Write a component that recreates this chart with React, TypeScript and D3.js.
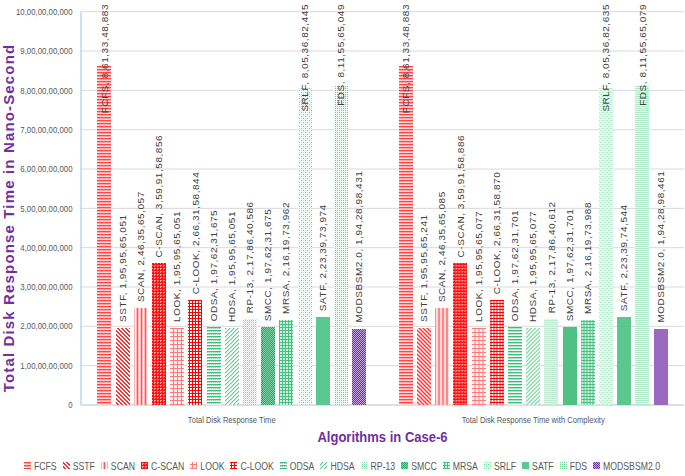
import React, { useMemo } from "react";
import * as d3 from "d3";

const categories = ["Total Disk Response Time", "Total Disk Response Time with Complexity"];
const algorithms = ["FCFS", "SSTF", "SCAN", "C-SCAN", "LOOK", "C-LOOK", "ODSA", "HDSA", "RP-13", "SMCC", "MRSA", "SRLF", "SATF", "FDS", "MODSBSM2.0"];
const totalTime = [8613348883, 1959565051, 2463565057, 3599158856, 1959565051, 2663158844, 1976231675, 1959565051, 2178640586, 1976231675, 2161973962, 8053682445, 2233973974, 8115565049, 1942898431];
const totalTimeComplexity = [8613348883, 1959565241, 2463565085, 3599158886, 1959565077, 2663158870, 1976231701, 1959565077, 2178640612, 1976231701, 2161973988, 8053682635, 2233974544, 8115565079, 1942898461];
const yTickValues = [0, 1e9, 2e9, 3e9, 4e9, 5e9, 6e9, 7e9, 8e9, 9e9, 1e10];
const yTitle = "Total Disk Response Time in Nano-Second";
const xTitle = "Algorithms in Case-6";

const W = 685;
const H = 476;
const PL = 81, PR = 684, PT = 11.7, PB = 405;

function indian(n: number): string {
  const s = String(Math.round(n));
  if (s.length <= 3) return s;
  const last3 = s.slice(-3);
  let rest = s.slice(0, -3);
  const parts: string[] = [];
  while (rest.length > 2) {
    parts.unshift(rest.slice(-2));
    rest = rest.slice(0, -2);
  }
  if (rest.length) parts.unshift(rest);
  return parts.join(",") + "," + last3;
}

let ctx: CanvasRenderingContext2D | null = null;
function measure(text: string, font: string): number {
  if (!ctx) ctx = document.createElement("canvas").getContext("2d");
  if (!ctx) return text.length * 5;
  ctx.font = font;
  return ctx.measureText(text).width;
}

type Px = [number, number, string];
type Pat = { w: number; h: number; bg: string; px: Px[] };

function gen(w: number, h: number, bg: string, f: (x: number, y: number) => string | null): Pat {
  const px: Px[] = [];
  for (let y = 0; y < h; y++)
    for (let x = 0; x < w; x++) {
      const c = f(x, y);
      if (c) px.push([x, y, c]);
    }
  return { w, h, bg, px };
}

const patterns: Pat[] = [
  // FCFS horizontal
  gen(1, 3, "#FFD9D9", (x, y) => (y === 0 ? "#FF4545" : y === 1 ? "#FFA3A3" : null)),
  // SSTF diagonal
  gen(4, 4, "#FFFFFF", (x, y) => (((x - y + 8) % 4) < 2 ? "#FF3030" : null)),
  // SCAN vertical
  gen(4, 1, "#FFFFFF", (x) => (x === 0 ? "#FF5A5A" : x === 1 || x === 3 ? "#FFB5B5" : null)),
  // C-SCAN dense
  gen(3, 3, "#FF9A9A", (x, y) => (x === 0 || y === 0 || (x === 2 && y === 2) ? "#FF1010" : null)),
  // LOOK light grid
  gen(4, 4, "#FFF2F2", (x, y) => (x === 0 || y === 0 ? "#FF7A7A" : null)),
  // C-LOOK grid
  gen(3, 3, "#FFFFFF", (x, y) => (x === 0 || y === 0 ? "#FF0000" : null)),
  // ODSA
  gen(4, 3, "#FFFFFF", (x, y) => (y === 0 ? "#3DBE7B" : y === 1 ? (x % 2 === 0 ? "#8ED9B2" : "#C5EDD8") : null)),
  // HDSA
  gen(4, 4, "#FFFFFF", (x, y) => ((x + y) % 4 === 0 ? "#5CCB90" : (x + y) % 4 === 1 ? "#B8EACF" : null)),
  // RP-13
  gen(4, 4, "#FFFFFF", (x, y) => ((x + y) % 2 === 0 ? (x % 2 === 0 ? "#7FD6A8" : "#C2ECD5") : null)),
  // SMCC
  gen(2, 2, "#7ED3A6", (x, y) => ((x + y) % 2 === 0 ? "#1FAE64" : null)),
  // MRSA
  gen(3, 3, "#D2F1E0", (x, y) => (x === 0 || y === 0 ? "#45C282" : null)),
  // SRLF
  gen(4, 4, "#F4FCF7", (x, y) => ((x === 0 && y === 0) || (x === 2 && y === 2) ? "#6FD39E" : (x === 2 && y === 0) || (x === 0 && y === 2) ? "#BFEBD3" : null)),
  // SATF
  gen(1, 1, "#5CC891", () => null),
  // FDS
  gen(2, 2, "#EEFAF3", (x, y) => (x === 0 && y === 0 ? "#6FD39E" : null)),
  // MODSBSM2.0
  gen(2, 2, "#C6A5DF", (x, y) => ((x + y) % 2 === 0 ? "#7030A0" : null)),
];

const LABEL_SIZE = 10;
const LABEL_SPACING = 0.55;
const LABEL_FONT = `${LABEL_SIZE}px 'Liberation Sans', Arial, sans-serif`;
const LEGEND_FONT_SIZE = 11;
const LEGEND_FONT = `${LEGEND_FONT_SIZE}px 'Liberation Sans', Arial, sans-serif`;

export default function App() {
  const series = [totalTime, totalTimeComplexity];

  const x0 = d3.scaleBand<string>().domain(categories).range([PL, PR]).padding(0);
  const x1 = d3
    .scaleBand<string>()
    .domain(algorithms)
    .range([0, x0.bandwidth()])
    .paddingInner(0.23)
    .paddingOuter(0.9);
  const y = d3.scaleLinear().domain([0, 1e10]).range([PB, PT]);

  const legend = useMemo(() => {
    const sx = 0.79;
    const sw = 7, g1 = 3, g2 = 6;
    const widths = algorithms.map((a) => measure(a, LEGEND_FONT) * sx);
    const total = widths.reduce((s, w) => s + sw + g1 + w + g2, 0) - g2;
    let cx = 342 - total / 2;
    return algorithms.map((a, i) => {
      const item = { name: a, i, x: cx, tx: cx + sw + g1, sx };
      cx += sw + g1 + widths[i] + g2;
      return item;
    });
  }, []);

  return (
    <svg width={W} height={H} style={{ display: "block", position: "absolute", left: 0, top: 0, background: "#fff" }}>
      <defs>
        {patterns.map((p, i) => (
          <pattern key={i} id={`pat-${i}`} width={p.w} height={p.h} patternUnits="userSpaceOnUse">
            <rect width={p.w} height={p.h} fill={p.bg} shapeRendering="crispEdges" />
            {p.px.map(([px, py, c], j) => (
              <rect key={j} x={px} y={py} width={1} height={1} fill={c} shapeRendering="crispEdges" />
            ))}
          </pattern>
        ))}
      </defs>
      <rect width={W} height={H} fill="#fff" />

      {/* gridlines */}
      {yTickValues.map((t) => (
        <line key={t} x1={PL} x2={PR} y1={y(t)} y2={y(t)} stroke={t === 0 ? "#BFBFBF" : "#D9D9D9"} strokeWidth={1} />
      ))}
      <line x1={PL} x2={PL} y1={PT} y2={PB} stroke="#9DC3E6" strokeWidth={1} />

      {/* y tick labels */}
      {yTickValues.map((t) => (
        <text
          key={t}
          transform={`translate(72.5,${y(t)}) scale(0.87,1)`}
          textAnchor="end"
          dy="0.35em"
          fontFamily="'Liberation Sans', Arial, sans-serif"
          fontSize={9}
          fill="#595959"
        >
          {indian(t)}
        </text>
      ))}

      {/* bars */}
      {categories.map((c, ci) => (
        <g key={c} transform={`translate(${x0(c)},0)`}>
          {algorithms.map((a, ai) => {
            const v = series[ci][ai];
            const bx = x1(a) as number;
            const bw = x1.bandwidth();
            return (
              <rect key={a} x={bx} y={y(v)} width={bw} height={PB - y(v)} fill={`url(#pat-${ai})`} shapeRendering="crispEdges" />
            );
          })}
        </g>
      ))}

      {/* bar labels */}
      {categories.map((c, ci) => (
        <g key={c + "l"} transform={`translate(${x0(c)},0)`}>
          {algorithms.map((a, ai) => {
            const v = series[ci][ai];
            const cxp = (x1(a) as number) + x1.bandwidth() / 2;
            const txt = `${a}, ${indian(v)}`;
            const len = measure(txt, LABEL_FONT) + txt.length * LABEL_SPACING;
            const start = y(v) - 6;
            const clamped = start - len < 3;
            return (
              <text
                key={a}
                transform={`translate(${cxp},${clamped ? 4 : start}) rotate(-90) scale(1,0.9)`}
                textAnchor={clamped ? "end" : "start"}
                dy="0.35em"
                fontFamily="'Liberation Sans', Arial, sans-serif"
                fontSize={LABEL_SIZE}
                letterSpacing={LABEL_SPACING}
                fill="#404040"
              >
                {txt}
              </text>
            );
          })}
        </g>
      ))}

      {/* category labels */}
      {categories.map((c) => (
        <text
          key={c}
          transform={`translate(${(x0(c) as number) + x0.bandwidth() / 2},422.5) scale(0.8,1)`}
          textAnchor="middle"
          fontFamily="'Liberation Sans', Arial, sans-serif"
          fontSize={9.5}
          fill="#595959"
        >
          {c}
        </text>
      ))}

      {/* axis titles */}
      <text
        transform={`translate(${(PL + PR) / 2},442) scale(0.93,1)`}
        textAnchor="middle"
        fontFamily="'Liberation Sans', Arial, sans-serif"
        fontWeight="bold"
        fontSize={14}
        fill="#7030A0"
      >
        {xTitle}
      </text>
      <text
        transform={`translate(13.5,218) rotate(-90)`}
        textAnchor="middle"
        fontFamily="'Liberation Sans', Arial, sans-serif"
        fontWeight="bold"
        fontSize={15}
        letterSpacing={1.15}
        fill="#7030A0"
      >
        {yTitle}
      </text>

      {/* legend */}
      {legend.map((it) => (
        <g key={it.name}>
          <rect x={it.x} y={462} width={7} height={7} fill={`url(#pat-${it.i})`} shapeRendering="crispEdges" />
          <text
            transform={`translate(${it.tx},469.5) scale(${it.sx},1)`}
            fontFamily="'Liberation Sans', Arial, sans-serif"
            fontSize={LEGEND_FONT_SIZE}
            fill="#595959"
          >
            {it.name}
          </text>
        </g>
      ))}
    </svg>
  );
}
